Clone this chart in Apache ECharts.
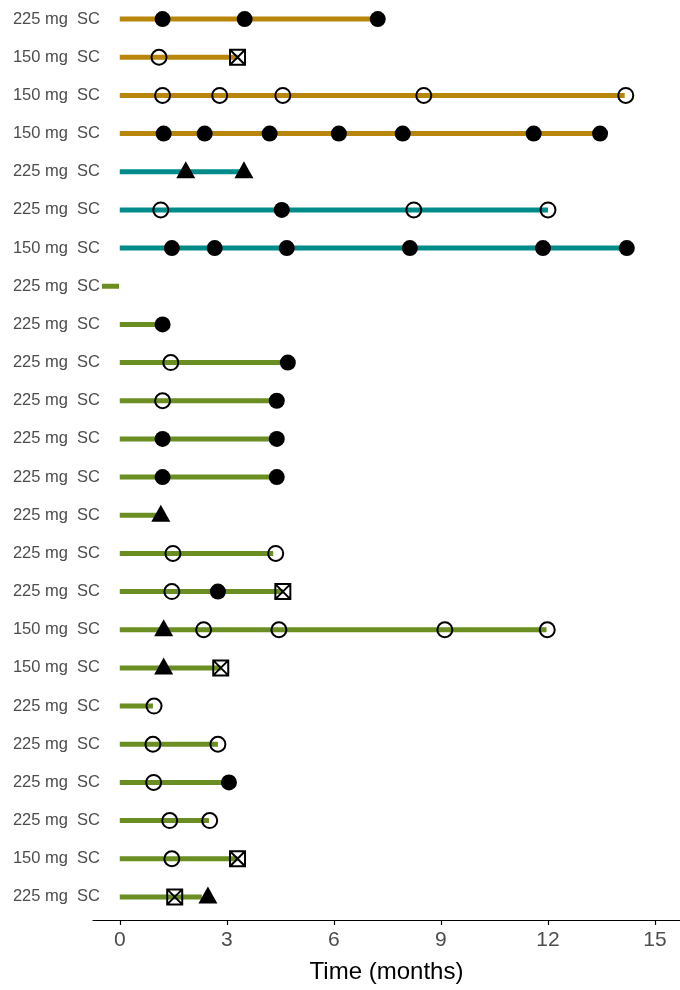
<!DOCTYPE html>
<html>
<head>
<meta charset="utf-8">
<script src="https://cdn.jsdelivr.net/npm/echarts@6/dist/echarts.min.js"></script>
<style>
  html, body { margin: 0; padding: 0; background: #fff; }
  #swimmer { width: 680px; height: 990px; }
</style>
</head>
<body>
<div id="swimmer"></div>
<script>
// one entry per patient row, top to bottom
const doseLabels = [
  "225 mg  SC", "150 mg  SC", "150 mg  SC", "150 mg  SC", "225 mg  SC", "225 mg  SC",
  "150 mg  SC", "225 mg  SC", "225 mg  SC", "225 mg  SC", "225 mg  SC", "225 mg  SC",
  "225 mg  SC", "225 mg  SC", "225 mg  SC", "225 mg  SC", "150 mg  SC", "150 mg  SC",
  "225 mg  SC", "225 mg  SC", "225 mg  SC", "225 mg  SC", "150 mg  SC", "225 mg  SC"
];
const groups = [
  "gold", "gold", "gold", "gold", "teal", "teal", "teal",
  "green", "green", "green", "green", "green", "green", "green", "green", "green",
  "green", "green", "green", "green", "green", "green", "green", "green"
];
const startTimes = [0, 0, 0, 0, 0, 0, 0, -0.5, 0, 0, 0, 0, 0, 0, 0, 0, 0, 0, 0, 0, 0, 0, 0, 0];
const endTimes = [
  7.23, 3.3, 14.15, 13.45, 3.48, 12.0, 14.21, -0.02, 1.2, 4.71, 4.4, 4.4,
  4.4, 1.08, 4.3, 4.57, 11.96, 2.83, 0.93, 2.75, 3.06, 2.5, 3.3, 2.3
];
const filledDots = [
  [1.2, 3.5, 7.23], [], [], [1.23, 2.38, 4.2, 6.14, 7.93, 11.6, 13.46], [], [4.54],
  [1.46, 2.66, 4.68, 8.13, 11.86, 14.21], [], [1.2], [4.71], [4.4], [1.2, 4.4],
  [1.2, 4.4], [], [], [2.75], [], [], [], [], [3.06], [], [], []
];
const openDots = [
  [], [1.1], [1.2, 2.8, 4.57, 8.52, 14.18], [], [], [1.15, 8.24, 12.0],
  [], [], [], [1.43], [1.2], [],
  [], [], [1.49, 4.37], [1.46], [2.35, 4.46, 9.11, 11.98], [],
  [0.96], [0.93, 2.75], [0.95], [1.4, 2.52], [1.46], []
];
const triangles = [
  [], [], [], [], [1.85, 3.48], [], [], [], [], [], [], [],
  [], [1.15], [], [], [1.23], [1.23], [], [], [], [], [], [2.47]
];
const crossBoxes = [
  [], [3.3], [], [], [], [], [], [], [], [], [], [],
  [], [], [], [4.57], [], [2.83], [], [], [], [], [3.3], [1.54]
];
const xTicks = [0, 3, 6, 9, 12, 15];

const groupColors = { gold: "#B8860B", teal: "#008B8B", green: "#6B8E23" };
const rowIds = doseLabels.map((d, i) => String(i));

function points(list) {
  const out = [];
  list.forEach((times, row) => times.forEach((t) => out.push([t, row])));
  return out;
}

const chart = echarts.init(document.getElementById("swimmer"));
const series = [];

doseLabels.forEach((d, i) => {
  series.push({
    type: "line",
    data: [[startTimes[i], i], [endTimes[i], i]],
    symbol: "none",
    silent: true,
    z: 1,
    lineStyle: { color: groupColors[groups[i]], width: 5, cap: "butt" }
  });
});

series.push({
  type: "scatter",
  data: points(filledDots),
  symbol: "circle",
  symbolSize: 16,
  z: 3,
  itemStyle: { color: "#000", opacity: 1 }
});
series.push({
  type: "scatter",
  data: points(openDots),
  symbol: "circle",
  symbolSize: 15,
  z: 3,
  itemStyle: { color: "rgba(0,0,0,0)", borderColor: "#000", borderWidth: 2, opacity: 1 }
});
series.push({
  type: "scatter",
  data: points(triangles),
  symbol: "triangle",
  symbolSize: [19, 17],
  symbolOffset: [0, -2],
  z: 3,
  itemStyle: { color: "#000", opacity: 1 }
});
series.push({
  type: "scatter",
  data: points(crossBoxes),
  symbol: "path://M0,0H20V20H0ZM0,0L20,20M20,0L0,20",
  symbolSize: 15,
  z: 3,
  itemStyle: { color: "rgba(0,0,0,0)", borderColor: "#000", borderWidth: 2, opacity: 1 }
});

const option = {
  animation: false,
  backgroundColor: "#fff",
  textStyle: { fontFamily: "Liberation Sans, Arial, sans-serif" },
  grid: { left: 93, right: 0, top: -2, bottom: 74, containLabel: false },
  xAxis: {
    type: "value",
    min: -0.75,
    max: 15.7,
    offset: 4,
    name: "Time (months)",
    nameLocation: "middle",
    nameGap: 40,
    nameTextStyle: { color: "#000", fontSize: 24 },
    axisLine: { show: true, onZero: false, lineStyle: { color: "#000", width: 1.2 } },
    axisTick: { show: true, length: 5, customValues: xTicks, lineStyle: { color: "#000", width: 1.2 } },
    axisLabel: { customValues: xTicks, color: "#4d4d4d", fontSize: 21, margin: 10 },
    splitLine: { show: false }
  },
  yAxis: {
    type: "category",
    data: rowIds,
    inverse: true,
    axisLine: { show: false },
    axisTick: { show: false },
    splitLine: { show: false },
    axisLabel: {
      interval: 0,
      margin: -7,
      color: "#4d4d4d",
      fontSize: 16.5,
      formatter: (v, i) => doseLabels[i]
    }
  },
  series: series
};

chart.setOption(option);
</script>
</body>
</html>
